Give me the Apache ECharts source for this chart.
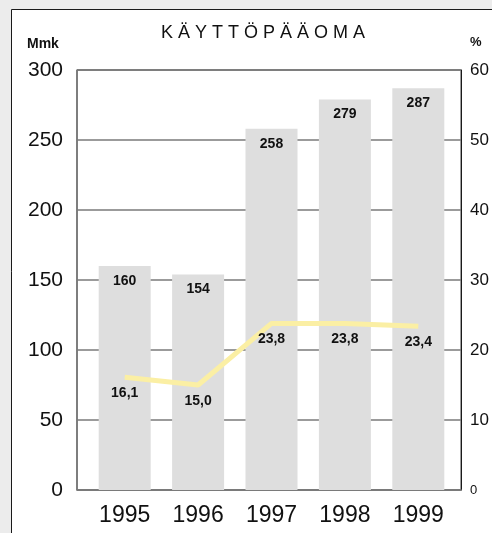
<!DOCTYPE html>
<html>
<head>
<meta charset="utf-8">
<script src="https://cdn.jsdelivr.net/npm/echarts@6/dist/echarts.min.js"></script>
<style>
html,body{margin:0;padding:0;background:#ececec;}
#chart{width:492px;height:533px;}
</style>
</head>
<body>
<div id="chart"></div>
<script>
var years = ['1995', '1996', '1997', '1998', '1999'];
var capital = [160, 154, 258, 279, 287];          // Mmk
var percent = [16.1, 15.0, 23.8, 23.8, 23.4];      // %
var title = 'K Ä Y T T Ö P Ä Ä O M A';
var leftUnit = 'Mmk';
var rightUnit = '%';

var FONT = '"Liberation Sans", Arial, Helvetica, sans-serif';
var chart = echarts.init(document.getElementById('chart'), null, {renderer: 'canvas'});

chart.setOption({
  backgroundColor: 'transparent',
  animation: false,
  graphic: [
    {type: 'rect', z: -10, shape: {x: 11.5, y: 9.5, width: 540, height: 560},
     style: {fill: '#ffffff', stroke: '#1a1a1a', lineWidth: 1}},
    {type: 'text', left: 27, top: 37, style: {text: leftUnit, font: 'bold 14px ' + FONT, fill: '#111'}},
    {type: 'text', left: 470, top: 36, style: {text: rightUnit, font: 'bold 13px ' + FONT, fill: '#111'}}
  ],
  title: {
    text: title,
    left: 258, top: 19, textAlign: 'center',
    textStyle: {fontFamily: FONT, fontSize: 18, fontWeight: 'normal', color: '#111'}
  },
  grid: [
    {left: 77, top: 70, width: 386, height: 420, show: true, borderColor: '#1a1a1a', borderWidth: 1, backgroundColor: 'transparent'},
    {left: 88, top: 70, width: 367, height: 420}
  ],
  xAxis: [
    {gridIndex: 0, type: 'category', data: years, show: true,
     axisLine: {show: true, lineStyle: {color: '#7a7a7a', width: 1.5}},
     axisTick: {show: false}, axisLabel: {show: false}, splitLine: {show: false}},
    {gridIndex: 1, type: 'category', data: years,
     axisLine: {show: false}, axisTick: {show: false},
     axisLabel: {fontFamily: FONT, fontSize: 23, color: '#111', margin: 14}}
  ],
  yAxis: [
    {gridIndex: 0, type: 'value', min: 0, max: 300, interval: 50, position: 'left',
     axisLine: {show: true, lineStyle: {color: '#7a7a7a', width: 1.5}},
     axisTick: {show: false},
     splitLine: {show: true, lineStyle: {color: '#7a7a7a', width: 1.5}},
     axisLabel: {fontFamily: FONT, fontSize: 21, color: '#111', margin: 14}},
    {gridIndex: 0, type: 'value', min: 0, max: 60, interval: 10, position: 'right',
     axisLine: {show: true, lineStyle: {color: '#1a1a1a', width: 1}},
     axisTick: {show: false}, splitLine: {show: false},
     axisLabel: {fontFamily: FONT, fontSize: 17, color: '#111', margin: 9,
       formatter: function (v) { return v === 0 ? '{s|0}' : String(v); },
       rich: {s: {fontFamily: FONT, fontSize: 13, color: '#111'}}}},
    {gridIndex: 1, type: 'value', min: 0, max: 300, show: false},
    {gridIndex: 1, type: 'value', min: 0, max: 60, show: false}
  ],
  series: [
    {type: 'bar', xAxisIndex: 1, yAxisIndex: 2, data: capital, barWidth: 52,
     itemStyle: {color: '#dedede'},
     label: {show: true, position: 'insideTop', distance: 8,
       fontFamily: FONT, fontSize: 14, fontWeight: 'bold', color: '#111'}},
    {type: 'line', xAxisIndex: 1, yAxisIndex: 3, data: percent, z: 3,
     showSymbol: true, symbol: 'circle', symbolSize: 2,
     itemStyle: {color: 'rgba(251,239,164,0)'},
     lineStyle: {color: '#fbefa4', width: 5},
     labelLayout: {hideOverlap: false},
     label: {show: true, position: 'bottom', distance: 8,
       fontFamily: FONT, fontSize: 14, fontWeight: 'bold', color: '#111',
       formatter: function (p) { return String(p.value.toFixed(1)).replace('.', ','); }}}
  ]
});
</script>
</body>
</html>
